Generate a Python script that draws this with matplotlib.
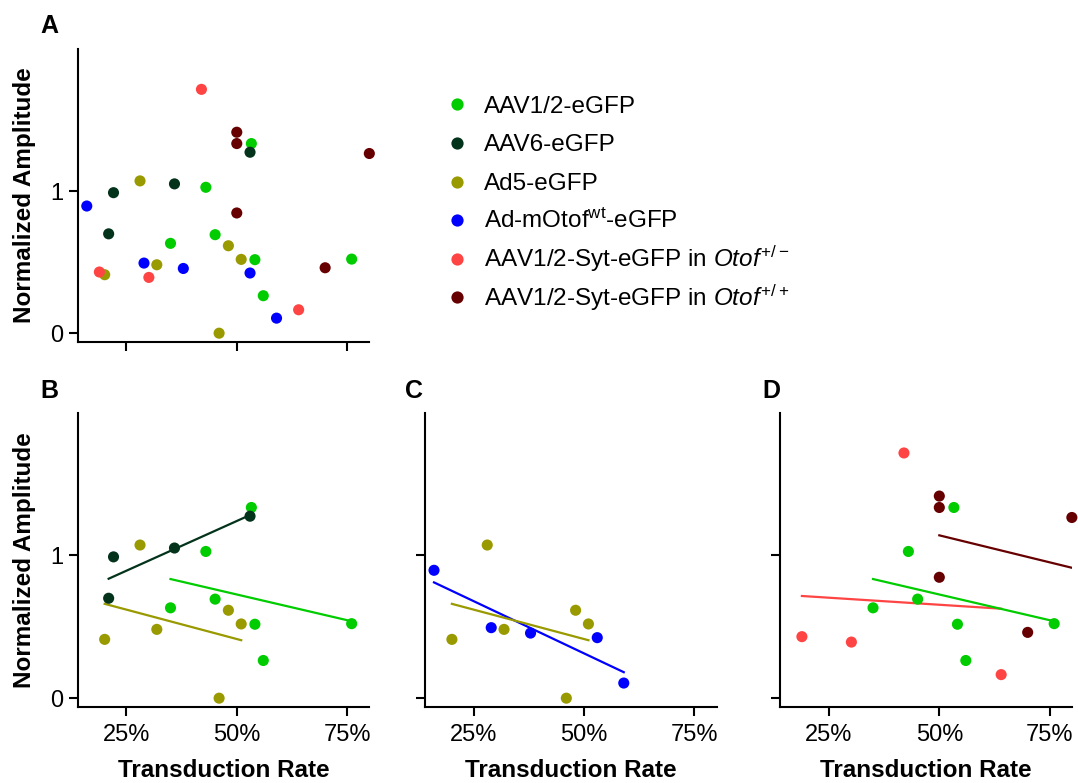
import numpy as np
import matplotlib
matplotlib.use("Agg")
import matplotlib.pyplot as plt
from matplotlib.lines import Line2D

plt.rcParams['font.family'] = ['Liberation Sans', 'DejaVu Sans']
plt.rcParams['mathtext.fontset'] = 'custom'
plt.rcParams['mathtext.rm'] = 'Liberation Sans'
plt.rcParams['mathtext.it'] = 'Liberation Sans:italic'

# transduction rate (%) and normalized amplitude per group
aav12_x = [53.3, 43.0, 45.1, 35.0, 54.1, 56.0, 76.0]
aav12_y = [1.336, 1.028, 0.694, 0.633, 0.518, 0.264, 0.522]
aav6_x = [22.1, 21.0, 35.9, 53.0]
aav6_y = [0.99, 0.70, 1.052, 1.275]
ad5_x = [28.1, 20.1, 31.9, 48.1, 51.0, 46.0]
ad5_y = [1.073, 0.412, 0.482, 0.616, 0.52, 0.0]
admotof_x = [16.05, 29.0, 37.9, 53.0, 59.0]
admotof_y = [0.896, 0.494, 0.456, 0.424, 0.106]
sythet_x = [42.0, 18.9, 30.1, 64.0]
sythet_y = [1.718, 0.431, 0.393, 0.165]
sytwt_x = [50.0, 50.0, 50.0, 70.0, 80.0]
sytwt_y = [1.416, 1.336, 0.847, 0.461, 1.266]

labels = ["AAV1/2-eGFP", "AAV6-eGFP", "Ad5-eGFP",
          r"Ad-mOtof$^{\mathrm{wt}}$-eGFP",
          r"AAV1/2-Syt-eGFP in $\mathit{Otof}^{\mathrm{+/-}}$",
          r"AAV1/2-Syt-eGFP in $\mathit{Otof}^{\mathrm{+/+}}$"]
colors = ["#00cc00", "#03331b", "#999900", "#0000ff", "#ff4444", "#660000"]

groups = [(aav12_x, aav12_y), (aav6_x, aav6_y), (ad5_x, ad5_y),
          (admotof_x, admotof_y), (sythet_x, sythet_y), (sytwt_x, sytwt_y)]

xticks = [25, 50, 75]
xticklabels = ["25%", "50%", "75%"]

W, H = 1078, 783


def style(ax, xlab=True, ylab=True):
    ax.set_xlim(14, 80)
    ax.set_ylim(-0.06, 2.0)
    ax.set_xticks(xticks)
    ax.set_yticks([0, 1])
    ax.spines['top'].set_visible(False)
    ax.spines['right'].set_visible(False)
    for s in ['left', 'bottom']:
        ax.spines[s].set_linewidth(1.5)
    ax.tick_params(direction='out', length=6.5, width=1.5, labelsize=17)
    ax.tick_params(axis='x', pad=6)
    ax.tick_params(axis='y', pad=4)
    if xlab:
        ax.set_xticklabels(xticklabels)
        ax.set_xlabel("Transduction Rate", fontsize=17.5, fontweight='bold', labelpad=9)
    else:
        ax.set_xticklabels([])
    if ylab:
        ax.set_yticklabels(["0", "1"])
        ax.set_ylabel("Normalized Amplitude", fontsize=17.5, fontweight='bold', labelpad=10)
    else:
        ax.set_yticklabels([])


def fit(ax, i):
    x = np.array(groups[i][0])
    y = np.array(groups[i][1])
    m, b = np.polyfit(x, y, 1)
    xs = np.array([x.min(), x.max()])
    ax.plot(xs, m * xs + b, color=colors[i], lw=1.6, zorder=2)


def dots(ax, idx):
    for i in idx:
        ax.scatter(groups[i][0], groups[i][1], s=64, color=colors[i],
                   edgecolors='none', zorder=3, clip_on=False)


fig = plt.figure(figsize=(10.78, 7.83), dpi=100)
axA = fig.add_axes([0.0721, 0.5636, 0.2705, 0.3734])
axB = fig.add_axes([0.0721, 0.0974, 0.2705, 0.3755])
axC = fig.add_axes([0.3942, 0.0974, 0.2705, 0.3755])
axD = fig.add_axes([0.7238, 0.0974, 0.2705, 0.3755])

dots(axA, range(6))
style(axA, xlab=False)

# legend, drawn row by row so the spacing stays even
for k in range(6):
    yc = 104.3 + k * 38.6
    fig.add_artist(Line2D([457 / W], [1 - yc / H], marker='o', markersize=8.8,
                          color=colors[k], markeredgewidth=0, linestyle='none',
                          transform=fig.transFigure))
    fig.text(484 / W, 1 - (yc + 8.3) / H, labels[k], fontsize=17.5,
             va='baseline', ha='left')

for i in [1, 0, 2]:
    fit(axB, i)
dots(axB, [0, 1, 2])
style(axB)

for i in [3, 2]:
    fit(axC, i)
dots(axC, [2, 3])
style(axC, ylab=False)

for i in [5, 4, 0]:
    fit(axD, i)
dots(axD, [0, 4, 5])
style(axD, ylab=False)

for lab, xo, yo in [("A", 40, 33), ("B", 40, 398), ("C", 405, 398), ("D", 762, 398)]:
    fig.text(xo / W, 1 - yo / H, lab, fontsize=18, fontweight='bold',
             va='baseline', ha='left')

fig.savefig("out.png", dpi=100)
